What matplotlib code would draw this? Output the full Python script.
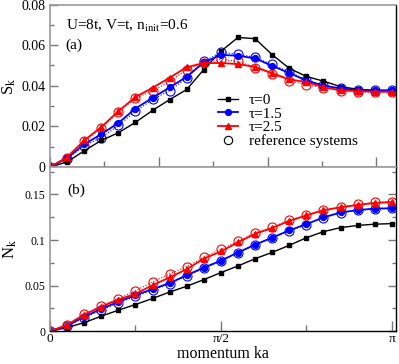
import matplotlib
matplotlib.use('Agg')
import matplotlib.pyplot as plt
import numpy as np
from matplotlib.ticker import MultipleLocator, FixedLocator

plt.rcParams['font.family'] = 'Liberation Serif'
plt.rcParams['mathtext.fontset'] = 'stix'

# momentum grid index, k = idx * pi / 20
idx = [0, 1, 2, 3, 4, 5, 6, 7, 8, 9, 10, 11, 12, 13, 14, 15, 16, 17, 18, 19, 20]

# panel (a): S_k
s_t0 = [0, 0.0025, 0.0080, 0.0131, 0.0169, 0.0220, 0.0279, 0.0332, 0.0382, 0.0480, 0.0570,
        0.0638, 0.0632, 0.0553, 0.0486, 0.0446, 0.0423, 0.0396, 0.0383, 0.0378, 0.0378]
s_t15 = [0, 0.0044, 0.0112, 0.0162, 0.0217, 0.0288, 0.0341, 0.0392, 0.0445, 0.0515, 0.0552,
         0.0548, 0.0535, 0.0498, 0.0463, 0.0426, 0.0401, 0.0387, 0.0379, 0.0377, 0.0377]
s_t25 = [0, 0.0049, 0.0131, 0.0197, 0.0275, 0.0345, 0.0390, 0.0440, 0.0492, 0.0512, 0.0512,
         0.0507, 0.0493, 0.0462, 0.0432, 0.0418, 0.0394, 0.0378, 0.0374, 0.0371, 0.0371]
s_ref15 = [0, 0.0040, 0.0105, 0.0145, 0.0205, 0.0274, 0.0333, 0.0376, 0.0438, 0.0520, 0.0565,
           0.0555, 0.0540, 0.0505, 0.0468, 0.0430, 0.0403, 0.0388, 0.0380, 0.0377, 0.0377]
s_ref25 = [0, 0.0047, 0.0126, 0.0190, 0.0270, 0.0340, 0.0374, 0.0422, 0.0480, 0.0510, 0.0530,
           0.0520, 0.0490, 0.0458, 0.0425, 0.0405, 0.0390, 0.0376, 0.0370, 0.0368, 0.0368]

# panel (b): N_k
n_t0 = [0, 0.0041, 0.0094, 0.0165, 0.0231, 0.0293, 0.0359, 0.0430, 0.0493, 0.0566, 0.0643,
        0.0716, 0.0795, 0.0865, 0.0942, 0.1025, 0.1092, 0.1136, 0.1160, 0.1174, 0.1180]
n_t15 = [0, 0.0059, 0.0158, 0.0246, 0.0323, 0.0396, 0.0462, 0.0528, 0.0615, 0.0697, 0.0775,
         0.0863, 0.0950, 0.1026, 0.1106, 0.1174, 0.1248, 0.1303, 0.1328, 0.1345, 0.1348]
n_t25 = [0, 0.0070, 0.0182, 0.0268, 0.0347, 0.0410, 0.0505, 0.0590, 0.0680, 0.0795, 0.0875,
         0.0975, 0.1068, 0.1132, 0.1210, 0.1270, 0.1327, 0.1358, 0.1385, 0.1407, 0.1416]
n_ref15 = [0, 0.0055, 0.0150, 0.0232, 0.0310, 0.0382, 0.0450, 0.0520, 0.0605, 0.0690, 0.0770,
           0.0860, 0.0948, 0.1025, 0.1100, 0.1170, 0.1243, 0.1300, 0.1325, 0.1343, 0.1346]
n_ref25 = [0, 0.0072, 0.0185, 0.0280, 0.0355, 0.0445, 0.0540, 0.0630, 0.0708, 0.0810, 0.0900,
           0.0985, 0.1080, 0.1140, 0.1215, 0.1275, 0.1330, 0.1362, 0.1390, 0.1412, 0.1422]

labels = ['τ=0', 'τ=1.5', 'τ=2.5', 'reference systems']
xtick_labels = ['0', 'π/2', 'π']

k = np.pi * np.array(idx) / 20.0

fig = plt.figure(figsize=(3.99, 3.64), dpi=100)
ax1 = fig.add_axes([0.1253, 0.541, 0.8672, 0.4465])
ax2 = fig.add_axes([0.1253, 0.090, 0.8672, 0.451])


def draw(ax, y0, y15, y25, r15, r25):
    ax.plot(k, r15, ':', color='blue', lw=0.8, marker='o', ms=6.5, mfc='none', mew=0.8)
    ax.plot(k, r25, ':', color='red', lw=0.8, marker='o', ms=6.5, mfc='none', mew=0.8)
    l0, = ax.plot(k, y0, '-', color='black', lw=1.0, marker='s', ms=3.2)
    l1, = ax.plot(k, y15, '-', color='blue', lw=1.3, marker='o', ms=4.2)
    l2, = ax.plot(k, y25, '-', color='red', lw=1.3, marker='^', ms=4.2)
    return l0, l1, l2


def style(ax):
    ax.spines['top'].set_color('#999999')
    ax.spines['left'].set_color('#999999')
    ax.spines['left'].set_linewidth(1.2)
    ax.spines['top'].set_linewidth(1.2)
    ax.spines['right'].set_linewidth(1.0)
    ax.spines['bottom'].set_linewidth(1.0)
    ax.set_xlim(0, 3.18)


l0, l1, l2 = draw(ax1, s_t0, s_t15, s_t25, s_ref15, s_ref25)
draw(ax2, n_t0, n_t15, n_t25, n_ref15, n_ref25)

# panel (a)
style(ax1)
ax1.set_ylim(0, 0.08)
ax1.set_yticks([0, 0.02, 0.04, 0.06, 0.08])
ax1.set_yticklabels(['0', '0.02', '0.04', '0.06', '0.08'])
ax1.yaxis.set_minor_locator(MultipleLocator(0.01))
ax1.xaxis.set_major_locator(MultipleLocator(1.0))
ax1.xaxis.set_minor_locator(MultipleLocator(0.5))
ax1.tick_params(axis='x', which='both', direction='in', labelbottom=False, color='#777777')
ax1.tick_params(axis='x', which='major', length=7, width=1)
ax1.tick_params(axis='x', which='minor', length=4, width=1)
ax1.tick_params(axis='y', which='both', direction='in', labelsize=10, color='#777777')
ax1.tick_params(axis='y', which='major', length=6, width=1)
ax1.tick_params(axis='y', which='minor', length=3, width=1)
ax1.set_ylabel('S$_\\mathrm{k}$', fontsize=12, labelpad=2)
ax1.text(0.045, 0.846, 'U=8t, V=t, n$_\\mathrm{init}$=0.6', transform=ax1.transAxes, fontsize=11)
ax1.text(0.045, 0.728, '(a)', transform=ax1.transAxes, fontsize=11)

ref_handle, = ax1.plot([], [], 'o', color='black', mfc='none', ms=6, mew=0.8)
ax1.legend([l0, l1, l2, ref_handle], labels, loc='lower left', bbox_to_anchor=(0.455, 0.05),
           frameon=False, fontsize=11, handlelength=1.3, handletextpad=0.7,
           labelspacing=0.0, borderpad=0.2)

# panel (b)
style(ax2)
ax2.set_ylim(0, 0.18)
ax2.set_yticks([0, 0.05, 0.1, 0.15])
ax2.set_yticklabels(['0', '0.05', '0.1', '0.15'])
ax2.yaxis.set_minor_locator(MultipleLocator(0.025))
ax2.set_xticks([0, np.pi / 2, np.pi])
ax2.set_xticklabels(xtick_labels)
ax2.xaxis.set_minor_locator(FixedLocator([np.pi / 4, 3 * np.pi / 4]))
ax2.tick_params(axis='x', which='both', direction='in', labelsize=9.5, color='#777777', pad=1.5)
ax2.tick_params(axis='x', which='major', length=7, width=1)
ax2.tick_params(axis='x', which='minor', length=4, width=1)
ax2.tick_params(axis='y', which='both', direction='in', right=True, labelsize=8.5, color='#777777')
ax2.tick_params(axis='y', which='major', length=6, width=1)
ax2.tick_params(axis='y', which='minor', length=3, width=1)
ax2.set_ylabel('N$_\\mathrm{k}$', fontsize=12, labelpad=4)
ax2.set_xlabel('momentum ka', fontsize=11.5, va='center')
ax2.xaxis.set_label_coords(0.5, -0.14)
ax2.text(0.049, 0.835, '(b)', transform=ax2.transAxes, fontsize=11)

fig.savefig('out.png', dpi=100)
